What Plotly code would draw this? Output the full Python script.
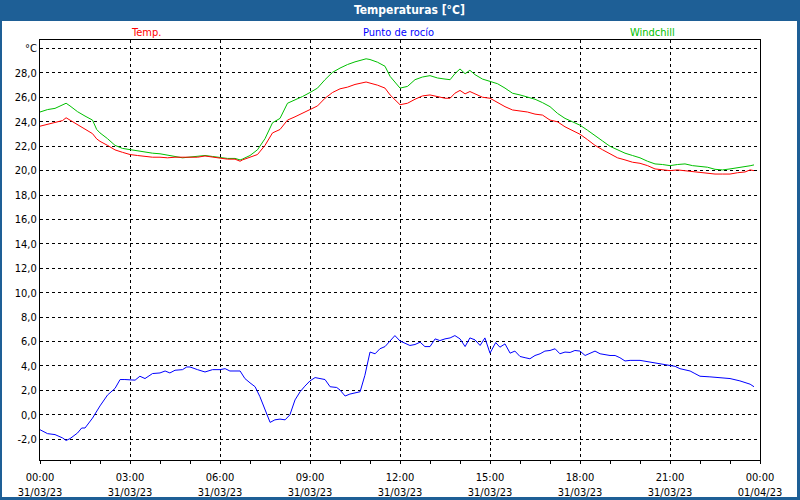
import pandas as pd
import plotly.graph_objects as go

# ---- data (hours after 31/03/23 00:00, °C) ----
temp_hours = [0, 0.25, 0.5, 0.75, 0.87, 1, 1.25, 1.5, 1.75, 1.89, 2, 2.25, 2.5, 2.75, 3, 3.25, 3.5, 3.75,
              4, 4.25, 4.5, 4.75, 5, 5.25, 5.5, 5.75, 6, 6.25, 6.5, 6.67, 6.75, 7, 7.25, 7.5, 7.75, 8,
              8.25, 8.5, 8.75, 9, 9.25, 9.5, 9.75, 10, 10.25, 10.5, 10.75, 10.87, 11, 11.25, 11.5, 11.67, 12,
              12.25, 12.5, 12.75, 13, 13.25, 13.5, 13.67, 13.83, 14, 14.17, 14.33, 14.5, 14.75, 15, 15.25,
              15.5, 15.75, 16, 16.25, 16.5, 16.75, 17, 17.25, 17.5, 17.75, 18, 18.25, 18.5, 18.75, 19,
              19.25, 19.5, 19.75, 20, 20.25, 20.5, 20.75, 21, 21.25, 21.5, 21.75, 22, 22.25, 22.5, 22.75,
              23, 23.25, 23.5, 23.67, 23.8]
temp_vals = [23.64, 23.8, 23.9, 24.1, 24.33, 24.14, 23.8, 23.45, 23.03, 22.6, 22.4, 22.07, 21.7, 21.5, 21.32,
             21.24, 21.16, 21.1, 21.1, 21.05, 21.1, 21.1, 21.16, 21.1, 21.2, 21.1, 21.05, 20.94, 20.94, 20.77,
             20.88, 21.1, 21.32, 22.07, 23.09, 23.37, 24.14, 24.41, 24.69, 25.02, 25.3, 25.93, 26.4, 26.7,
             26.84, 27.06, 27.17, 27.26, 27.17, 27.0, 26.76, 26.2, 25.4,
             25.52, 25.85, 26.12, 26.2, 26.07, 25.93, 25.93, 26.34, 26.57, 26.29, 26.48, 26.29, 26.01, 25.93,
             25.57, 25.24, 24.97, 24.91, 24.8, 24.63, 24.55, 24.14, 24.0, 23.59, 23.31, 22.98, 22.54, 22.07,
             21.71, 21.38, 21.05, 20.88, 20.69, 20.6, 20.41, 20.14, 20.06, 20.0, 20.06, 20.0, 19.94, 19.83,
             19.78, 19.72, 19.72, 19.72, 19.83, 19.89, 20.06, 20.0]

wind_hours = temp_hours
wind_vals = [24.8, 25.0, 25.1, 25.38, 25.52, 25.3, 24.83, 24.47, 24.14, 23.37, 23.09, 22.62, 22.07, 21.82,
             21.71, 21.66, 21.52, 21.43, 21.38, 21.24, 21.16, 21.05, 21.1, 21.16, 21.24, 21.16, 21.05, 21.0,
             21.0, 20.88, 20.95, 21.24, 21.71, 22.62, 23.92, 24.28, 25.52, 25.79, 26.07, 26.4, 26.76, 27.45,
             28.05, 28.4, 28.69, 28.91, 29.1, 29.16, 29.1, 28.88, 28.55, 27.72, 26.76,
             26.9, 27.45, 27.67, 27.78, 27.59, 27.5, 27.45, 27.94, 28.33, 27.94, 28.22, 27.86, 27.5, 27.31,
             27.12, 26.76, 26.34, 26.2, 26.01, 25.85, 25.57, 25.24, 24.69, 24.28, 24.0, 23.72, 23.31, 22.9,
             22.43, 21.99, 21.71, 21.43, 21.24, 21.05, 20.77, 20.55, 20.5, 20.41, 20.5, 20.55, 20.41, 20.33,
             20.28, 20.11, 20.06, 20.14, 20.22, 20.33, 20.4, 20.47]

dew_hours = [0, 0.25, 0.5, 0.75, 0.87, 1, 1.25, 1.39, 1.5, 1.75, 2, 2.25, 2.5, 2.67, 2.83, 3, 3.17, 3.33,
             3.5, 3.75, 4, 4.17, 4.33, 4.5, 4.75, 4.89, 5, 5.25, 5.5, 5.75, 6, 6.17, 6.33, 6.67, 6.83, 7,
             7.17, 7.33, 7.5, 7.67, 7.83, 8, 8.17, 8.33, 8.5, 8.67, 8.83, 9, 9.17, 9.33, 9.5, 9.67, 9.89,
             10, 10.17, 10.33, 10.5, 10.67, 10.83, 11, 11.17, 11.33, 11.5, 11.67, 11.83, 12,
             12.17, 12.33, 12.5, 12.67, 12.83, 13, 13.17, 13.33, 13.5, 13.67, 13.83, 14, 14.17, 14.33, 14.5,
             14.67, 14.83, 15, 15.19, 15.33, 15.5, 15.67, 15.83, 16, 16.17, 16.33, 16.5, 16.67, 16.83, 17,
             17.17, 17.33, 17.5, 17.67, 17.83, 18, 18.17, 18.33, 18.5, 18.67, 18.83, 19, 19.17, 19.33, 19.5,
             19.67, 20, 20.33, 20.67, 21, 21.17, 21.33, 21.67, 21.83, 22, 22.33, 22.67, 23, 23.33, 23.5,
             23.67, 23.8]
dew_vals = [-1.22, -1.54, -1.62, -1.89, -2.1, -1.95, -1.49, -1.08, -1.08, -0.27, 0.73, 1.62, 2.16, 2.89,
            2.89, 2.84, 2.84, 3.16, 2.97, 3.38, 3.43, 3.59, 3.43, 3.65, 3.7, 3.92, 3.92, 3.7, 3.51, 3.7, 3.7,
            3.78, 3.59, 3.59, 2.97, 2.62, 2.3, 1.49, 0.41, -0.62, -0.41, -0.35, -0.41, 0.0, 1.22, 1.89, 2.35,
            2.78, 3.05, 2.97, 2.89, 2.3, 2.24, 2.03, 1.54, 1.7, 1.81, 1.89, 3.24, 5.14, 5.0, 5.41, 5.59, 6.03,
            6.49, 6.05,
            5.86, 5.68, 5.76, 5.95, 5.59, 5.59, 6.22, 6.08, 6.22, 6.3, 6.49, 6.22, 5.59, 6.3, 6.14, 5.68, 6.3,
            5.05, 5.92, 5.54, 5.81, 5.05, 5.22, 4.78, 4.68, 4.59, 4.86, 5.0, 5.22, 5.27, 5.41, 5.0, 5.14,
            5.11, 5.27, 5.22, 4.86, 5.05, 5.22, 5.0, 4.92, 4.86, 4.86, 4.68, 4.41, 4.46, 4.46, 4.32, 4.19,
            4.05, 3.97, 3.78, 3.59, 3.38, 3.16, 3.11, 3.05, 2.97, 2.78, 2.62, 2.51, 2.3, 2.24]

series_names = ["Temp.", "Punto de rocío", "Windchill"]
tick_hours = [0, 3, 6, 9, 12, 15, 18, 21, 24]
tick_labels = ["00:00<br>31/03/23", "03:00<br>31/03/23", "06:00<br>31/03/23", "09:00<br>31/03/23",
               "12:00<br>31/03/23", "15:00<br>31/03/23", "18:00<br>31/03/23", "21:00<br>31/03/23",
               "00:00<br>01/04/23"]
y_ticks = list(range(-2, 31, 2))
y_labels = [f"{v},0" if v != 30 else "°C" for v in y_ticks]
title_text = "Temperaturas [°C]"

# ---- styling ----
RED, BLUE, GREEN = "#ff0000", "#0000ff", "#00c000"
FRAME = "#1e5f96"
FONT = "DejaVu Sans Condensed, Liberation Sans, sans-serif"

base = pd.Timestamp("2023-03-31 00:00")
def to_t(hs):
    return [base + pd.Timedelta(hours=h) for h in hs]

fig = go.Figure()
fig.add_trace(go.Scatter(x=to_t(wind_hours), y=wind_vals, mode="lines", name=series_names[2],
                         line=dict(color=GREEN, width=1), showlegend=False))
fig.add_trace(go.Scatter(x=to_t(dew_hours), y=dew_vals, mode="lines", name=series_names[1],
                         line=dict(color=BLUE, width=1), showlegend=False))
fig.add_trace(go.Scatter(x=to_t(temp_hours), y=temp_vals, mode="lines", name=series_names[0],
                         line=dict(color=RED, width=1), showlegend=False))

W, H = 800, 500
L, R, T, B = 40, 40, 40, 40
pw, ph = W - L - R, H - T - B
def px(x):
    return (x - L) / pw
def py(y):
    return (H - B - y) / ph

fig.add_shape(type="rect", xref="paper", yref="paper", x0=px(2), x1=px(797), y0=py(497), y1=py(21),
              fillcolor="white", line=dict(width=0), layer="below")

fig.add_annotation(x=px(410), y=py(10), xref="paper", yref="paper", text="<b>" + title_text + "</b>",
                   showarrow=False, font=dict(family=FONT, size=12, color="white"),
                   xanchor="center", yanchor="middle")
for name, col, cx in zip(series_names, [RED, BLUE, GREEN], [146, 398, 652]):
    fig.add_annotation(x=px(cx), y=py(32), xref="paper", yref="paper", text=name, showarrow=False,
                       font=dict(family=FONT, size=11, color=col), xanchor="center", yanchor="middle")

fig.update_layout(
    width=W, height=H, margin=dict(l=L, r=R, t=T, b=B, pad=0, autoexpand=False),
    paper_bgcolor=FRAME, plot_bgcolor="white",
    font=dict(family=FONT, size=11, color="black"),
    showlegend=False,
)
fig.update_xaxes(
    type="date", range=[base, base + pd.Timedelta(hours=24)],
    tickvals=to_t(tick_hours), ticktext=tick_labels, automargin=False,
    showgrid=True, gridcolor="black", gridwidth=1, griddash="3px,3px",
    showline=True, linecolor="black", linewidth=1, mirror=True,
    ticks="outside", ticklen=3, tickcolor="black", tickwidth=1, ticklabelstandoff=4,
    minor=dict(dtick=3600000, ticks="outside", ticklen=3, tickcolor="black", showgrid=False),
    zeroline=False, tickfont=dict(family=FONT, size=11, color="black"),
)
fig.update_yaxes(
    range=[-3.7, 30.7], tickvals=y_ticks, ticktext=y_labels, automargin=False,
    showgrid=True, gridcolor="black", gridwidth=1, griddash="3px,3px",
    showline=True, linecolor="black", linewidth=1, mirror=True,
    ticks="", zeroline=False, tickfont=dict(family=FONT, size=11, color="black"),
)

fig.write_html("out.html")
